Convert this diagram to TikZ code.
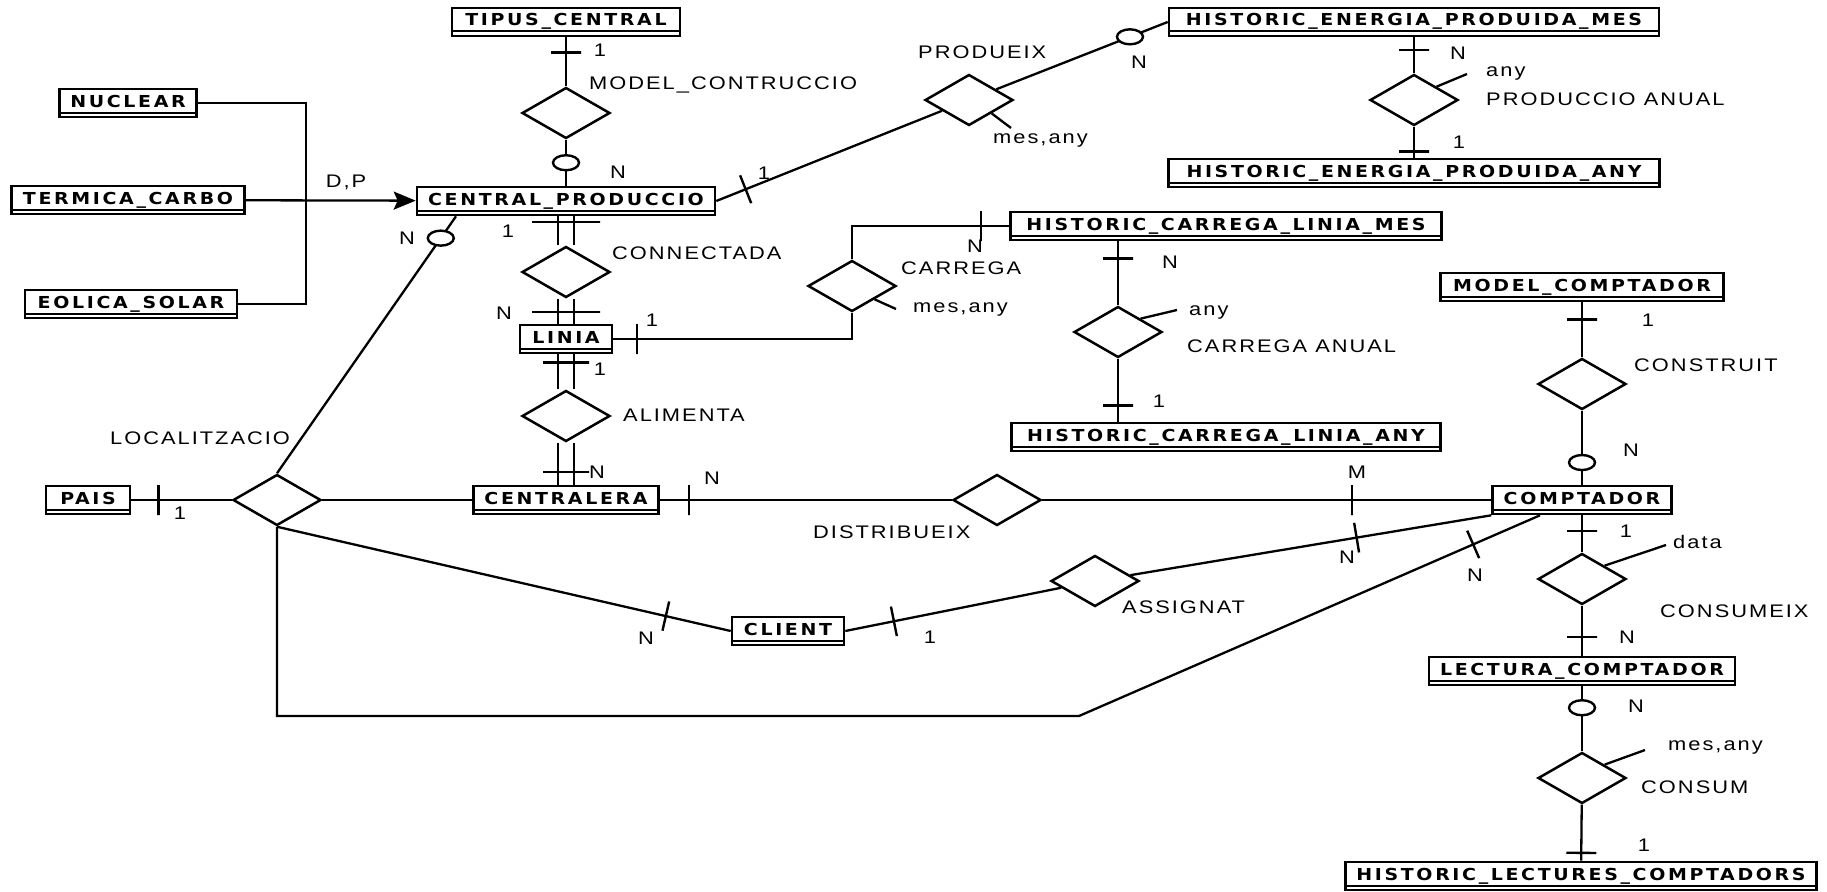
\documentclass[tikz,border=0pt]{standalone}
\usepackage{fontspec}
\newfontfamily\entfont[FakeStretch=1.15,LetterSpace=16]{DejaVu Sans}
\newfontfamily\relfont[FakeStretch=1.2,LetterSpace=11]{Liberation Sans}
\usetikzlibrary{shapes.geometric,arrows.meta}
\pgfdeclarelayer{back}
\pgfsetlayers{back,main}

\begin{document}
\begin{tikzpicture}[x=1pt,y=-1pt,
    entity/.style={draw,fill=white,line width=2.6pt,rectangle,minimum height=28pt,
      inner sep=0pt,text height=12pt,text depth=4pt,
      font=\entfont\bfseries\fontsize{16.5}{18}\selectfont,
      path picture={\draw[line width=2pt]
        ([yshift=4.5pt]path picture bounding box.south west) --
        ([yshift=4.5pt]path picture bounding box.south east);}},
    rel/.style={diamond,draw,fill=white,line width=2.5pt,minimum width=88pt,
      minimum height=51pt,inner sep=0pt},
    lbl/.style={font=\relfont\fontsize{18.2}{20}\selectfont,inner sep=0pt,
      text height=13pt,text depth=0pt,anchor=west},
    card/.style={lbl,anchor=center},
    one/.style={draw,line width=2.4pt,rectangle,inner sep=0pt,minimum width=0pt,
      minimum height=30pt,sloped},
    two/.style={one,minimum height=68pt},
    twoshort/.style={one,minimum height=46pt},
    opt/.style={draw,fill=white,ellipse,line width=2.4pt,inner sep=0pt,
      minimum width=26pt,minimum height=15pt},
    link/.style={line width=2.3pt},
    dbl/.style={line width=2.3pt,double,double distance=14pt}
  ]
  \useasboundingbox (0,0) rectangle (1827,891);

  % the entities
  \node[entity,minimum width=228pt] (tip) at (566,22) {TIPUS\_CENTRAL};
  \node[entity,minimum width=137pt] (nuc) at (128,103) {NUCLEAR};
  \node[entity,minimum width=233pt] (ter) at (128,200) {TERMICA\_CARBO};
  \node[entity,minimum width=212pt] (eol) at (131,304) {EOLICA\_SOLAR};
  \node[entity,minimum width=298pt] (cp) at (566,201) {CENTRAL\_PRODUCCIO};
  \node[entity,minimum width=490pt] (hepm) at (1414,22) {HISTORIC\_ENERGIA\_PRODUIDA\_MES};
  \node[entity,minimum width=491pt] (hepa) at (1414,173) {HISTORIC\_ENERGIA\_PRODUIDA\_ANY};
  \node[entity,minimum width=431pt] (hclm) at (1226,226) {HISTORIC\_CARREGA\_LINIA\_MES};
  \node[entity,minimum width=429pt] (hcla) at (1226,437) {HISTORIC\_CARREGA\_LINIA\_ANY};
  \node[entity,minimum width=92pt] (lin) at (566,339) {LINIA};
  \node[entity,minimum width=84pt] (pais) at (88,500) {PAIS};
  \node[entity,minimum width=185pt] (cen) at (566,500) {CENTRALERA};
  \node[entity,minimum width=112pt] (cli) at (788,631) {CLIENT};
  \node[entity,minimum width=283pt] (mcp) at (1582,287) {MODEL\_COMPTADOR};
  \node[entity,minimum width=179pt] (cpt) at (1582,500) {COMPTADOR};
  \node[entity,minimum width=306pt] (lec) at (1582,671) {LECTURA\_COMPTADOR};
  \node[entity,minimum width=471pt] (hlc) at (1581,876) {HISTORIC\_LECTURES\_COMPTADORS};

  % the relationships
  \node[rel] (mod) at (566,113) {};
  \node[rel] (prod) at (969,100) {};
  \node[rel] (pa) at (1414,100) {};
  \node[rel] (con) at (566,272) {};
  \node[rel] (car) at (852,286) {};
  \node[rel] (ca) at (1118,332) {};
  \node[rel] (ali) at (566,416) {};
  \node[rel] (loc) at (277,500) {};
  \node[rel] (dis) at (997,500) {};
  \node[rel] (asg) at (1095,581) {};
  \node[rel] (cons) at (1582,384) {};
  \node[rel] (csm) at (1582,579) {};
  \node[rel] (cns) at (1582,778) {};

  % relationship and attribute names
  \foreach \x/\y/\t [count=\i] in {589/83/MODEL\_CONTRUCCIO, 918/52/PRODUEIX,
      1486/99/PRODUCCIO ANUAL, 1486/70/any, 993/137/{mes,any}, 612/253/CONNECTADA,
      901/268/CARREGA, 913/306/{mes,any}, 1187/346/CARREGA ANUAL, 1189/309/any,
      623/415/ALIMENTA, 110/438/LOCALITZACIO, 813/532/DISTRIBUEIX, 1122/607/ASSIGNAT,
      1634/365/CONSTRUIT, 1660/611/CONSUMEIX, 1673/542/data, 1668/744/{mes,any},
      1641/787/CONSUM}
    \node[lbl] (name\i) at (\x,\y) {\t};
  \node[card] (gen) at (346,181) {D,P};

  % the cardinalities
  \foreach \x/\y/\t [count=\i] in {600/50/1, 618/172/N, 764/173/1, 1139/62/N,
      1458/53/N, 1459/142/1, 407/238/N, 508/231/1, 504/313/N, 652/320/1,
      975/246/N, 1170/262/N, 1159/401/1, 600/369/1, 597/472/N, 180/513/1,
      712/478/N, 1357/472/M, 646/638/N, 930/637/1, 1347/557/N, 1475/575/N,
      1648/320/1, 1631/450/N, 1626/531/1, 1627/637/N, 1636/706/N, 1644/845/1}
    \node[card] (card\i) at (\x,\y) {\t};

  % free ends of the attribute lines and the bends
  \coordinate (prodat) at (1011,128);
  \coordinate (paat) at (1467,74);
  \coordinate (carat) at (896,309);
  \coordinate (caat) at (1177,310);
  \coordinate (csmat) at (1666,545);
  \coordinate (cnsat) at (1645,750);
  \coordinate (jn) at (306,200);
  \coordinate (b1) at (277,716);
  \coordinate (b2) at (1079,716);

  \begin{pgfonlayer}{back}
    % the generalisation
    \draw[link] (nuc) -| (jn) |- (eol);
    \draw[link,-{Stealth[length=22pt,width=18pt,inset=4pt]}] (ter) -- (cp);

    % the edges
    \draw[link] (tip) -- node[one,pos=0.31] {} (mod);
    \draw[link] (mod) -- node[opt,pos=0.5] {} (cp);
    \draw[link] (cp.east) -- node[one,pos=0.13] {} (prod);
    \draw[link] (prod) -- node[opt,pos=0.78] {} (hepm.west);
    \draw[link] (hepm) -- node[one,pos=0.36] {} (pa);
    \draw[link] (pa) -- node[one,pos=0.8] {} (hepa);
    \draw[dbl] (cp) -- (con);
    \draw[dbl] (con) -- (lin);
    \draw[dbl] (lin) -- (ali);
    \draw[dbl] (ali) -- (cen);
    \path (cp) -- node[two,pos=0.19] {} (con);
    \path (con) -- node[two,pos=0.53] {} (lin);
    \path (lin) -- node[twoshort,pos=0.24] {} (ali);
    \path (ali) -- node[twoshort,pos=0.69] {} (cen);
    \draw[link] (lin) -| node[one,pos=0.05] {} (car);
    \draw[link] (car) |- node[one,pos=0.91] {} (hclm);
    \draw[link] (ca |- hclm.south) -- node[one,pos=0.27] {} (ca);
    \draw[link] (ca) -- node[one,pos=0.74] {} (ca |- hcla.north);
    \draw[link] ([xshift=-110pt]cp.south) -- node[opt,pos=0.085] {} (loc.north);
    \draw[link] (pais) -- node[one,pos=0.27] {} (loc);
    \draw[link] (loc) -- (cen);
    \draw[link] (cen) -- node[one,pos=0.10] {} (dis);
    \draw[link] (dis) -- node[one,pos=0.69] {} (cpt);
    \draw[link] (loc.south) -- node[one,pos=0.857] {} (cli.west);
    \draw[link] (cli.east) -- node[one,pos=0.225] {} (asg);
    \draw[link] (asg) -- node[one,pos=0.627] {} (cpt.south west);
    \draw[link] (loc.south) -- (b1) -- (b2) -- node[one,pos=0.855] {} ([xshift=-42pt]cpt.south);
    \draw[link] (mcp) -- node[one,pos=0.31] {} (cons);
    \draw[link] (cons) -- node[opt,pos=0.7] {} (cpt);
    \draw[link] (cpt) -- node[one,pos=0.43] {} (csm);
    \draw[link] (csm) -- node[one,pos=0.62] {} (lec);
    \draw[link] (lec) -- node[opt,pos=0.33] {} (cns);
    \draw[link] (cns) -- node[one,pos=0.86] {} (hlc);

    % the attributes
    \draw[link] (prod.south east) -- (prodat);
    \draw[link] (pa.north east) -- (paat);
    \draw[link] (car.south east) -- (carat);
    \draw[link] (ca.north east) -- (caat);
    \draw[link] (csm.north east) -- (csmat);
    \draw[link] (cns.north east) -- (cnsat);
  \end{pgfonlayer}
\end{tikzpicture}
\end{document}
